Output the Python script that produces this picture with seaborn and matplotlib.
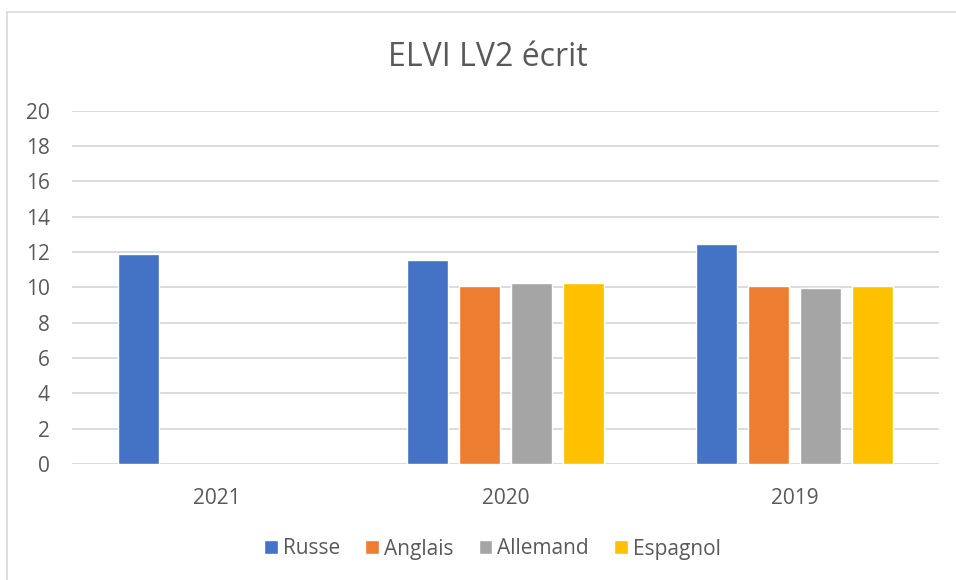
import matplotlib
matplotlib.use("Agg")
import matplotlib.pyplot as plt
import seaborn as sns
import pandas as pd
from matplotlib.patches import Rectangle

years = ["2021", "2020", "2019"]
langues = ["Russe", "Anglais", "Allemand", "Espagnol"]
russe = [11.89, 11.55, 12.45]
anglais = [None, 10.07, 10.06]
allemand = [None, 10.24, 9.98]
espagnol = [None, 10.23, 10.07]
colors = ["#4472C4", "#ED7D31", "#A5A5A5", "#FFC000"]
yticks = [0, 2, 4, 6, 8, 10, 12, 14, 16, 18, 20]

rows = []
for lang, vals in zip(langues, [russe, anglais, allemand, espagnol]):
    for y, v in zip(years, vals):
        if v is not None:
            rows.append({"Année": y, "Langue": lang, "Note": v})
df = pd.DataFrame(rows)

sns.set_theme(style="white")
plt.rcParams["font.family"] = ["Open Sans", "DejaVu Sans"]
txt = "#595959"

fig = plt.figure(figsize=(9.56, 5.8), dpi=100)
ax = fig.add_axes([72/956, 1-464/580, (939-72)/956, (464-110.7)/580])

sns.barplot(data=df, x="Année", y="Note", hue="Langue", order=years,
            hue_order=langues, palette=colors, width=0.724, gap=0.216,
            saturation=1, errorbar=None, ax=ax, zorder=3, legend=True)

ax.set_ylim(0, 20)
ax.set_yticks(yticks)
ax.set_xlim(-0.5, 2.5)
for y in yticks:
    ax.axhline(y, color="#d9d9d9", lw=1.3, zorder=1)
for s in ax.spines.values():
    s.set_visible(False)
ax.set_xlabel("")
ax.set_ylabel("")
ax.tick_params(axis="y", length=0, pad=16, labelsize=15, labelcolor=txt)
ax.tick_params(axis="x", length=0, pad=17, labelsize=15, labelcolor=txt)

h, l = ax.get_legend_handles_labels()
ax.get_legend().remove()
fig.legend(h, l, loc="center", bbox_to_anchor=(492.5/956, 1-549/580), ncol=4,
           frameon=False, handlelength=0.65, handleheight=0.65, handletextpad=0.25,
           columnspacing=1.2, fontsize=15, labelcolor=txt)

fig.text(487.5/956, 1-58/580, "ELVI LV2 écrit", ha="center", va="center",
         fontsize=23, color=txt)

fig.patches.append(Rectangle((7/956, -0.1), 1.2, 1-12/580+0.1, transform=fig.transFigure,
                             fill=False, edgecolor="#d9d9d9", lw=1.2))

fig.savefig("out.png", dpi=100)
